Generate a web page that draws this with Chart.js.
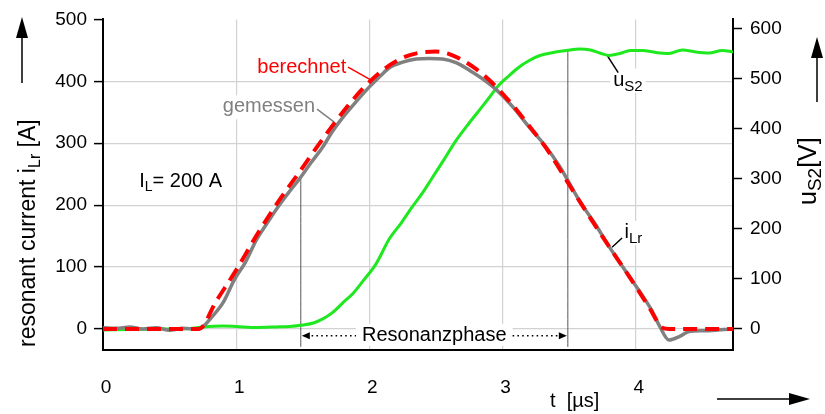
<!DOCTYPE html>
<html>

<head>
    <meta charset="utf-8">
    <title>Resonant current i_Lr and u_S2</title>
    <script src="https://cdn.jsdelivr.net/npm/chart.js"></script>
    <style>
        body { margin: 0; background: #fff; }
    </style>
</head>

<body>
    <canvas id="resonance-chart" width="825" height="414"></canvas>

    <script>
        // axis ticks
        const xTicks = [0, 1, 2, 3, 4];
        const leftTicks = [0, 100, 200, 300, 400, 500];
        const rightTicks = [0, 100, 200, 300, 400, 500, 600];

        // berechnet (calculated) i_Lr [A] over t [µs]
        const berechnetT = [0, 0.72, 0.85, 1.0, 1.15, 1.32, 1.47, 1.65, 1.8, 1.95, 2.1, 2.25, 2.4, 2.5, 2.6, 2.7, 2.8, 2.9, 3.05, 3.2, 3.35, 3.5, 3.65, 3.8, 3.95, 4.1, 4.2, 4.25, 4.73];
        const berechnetI = [0, 0, 45, 95, 150, 207, 252, 307, 350, 388, 418, 438, 447, 448, 444, 434, 420, 402, 368, 328, 285, 233, 182, 133, 85, 35, 2, 0, 0];

        // gemessen (measured) i_Lr [A]
        const gemessenT = [0, 0.1, 0.2, 0.3, 0.4, 0.5, 0.6, 0.7, 0.74, 0.82, 0.9, 0.985, 1.07, 1.15, 1.23, 1.32, 1.4, 1.47, 1.56, 1.65, 1.72, 1.78, 1.88, 2.0, 2.08, 2.15, 2.25, 2.35, 2.45, 2.55, 2.65, 2.75, 2.85, 2.96, 3.08, 3.2, 3.32, 3.43, 3.58, 3.7, 3.8, 3.9, 3.97, 4.05, 4.12, 4.18, 4.25, 4.33, 4.4, 4.5, 4.6, 4.66, 4.73];
        const gemessenI = [2, 1, 3, 0, 2, -2, 1, 0, 2, 20, 42, 79, 108, 143, 170, 199, 222, 241, 268, 294, 318, 336, 362, 391, 408, 422, 431, 436, 437, 436, 430, 418, 404, 385, 358, 326, 296, 262, 206, 168, 133, 101, 79, 54, 30, 4, -18, -12, -4, -3, -2, -1, 0];

        // u_S2 [V]
        const uS2T = [0, 0.2, 0.45, 0.65, 0.75, 0.9, 1.0, 1.15, 1.3, 1.4, 1.5, 1.58, 1.65, 1.72, 1.8, 1.88, 1.95, 2.05, 2.15, 2.24, 2.32, 2.4, 2.47, 2.56, 2.65, 2.74, 2.82, 2.9, 2.97, 3.05, 3.12, 3.2, 3.28, 3.38, 3.48, 3.58, 3.66, 3.74, 3.8, 3.88, 3.96, 4.05, 4.15, 4.25, 4.35, 4.45, 4.55, 4.65, 4.73];
        const uS2V = [-2, -1, 0, 1, 4, 6, 5, 3, 4, 5, 8, 12, 20, 32, 52, 72, 95, 130, 180, 212, 243, 272, 301, 338, 376, 408, 435, 462, 486, 506, 522, 536, 546, 552, 556, 559, 557, 550, 546, 550, 556, 556, 552, 550, 557, 553, 551, 556, 553];

        // Resonanzphase limits [µs]
        const phaseStart = 1.485;
        const phaseEnd = 3.49;

        const FONT = '"Liberation Sans", Arial, sans-serif';

        function toPoints(t, v) {
            return t.map((x, i) => ({ x: x, y: v[i] }));
        }

        // text with subscripts, parts = [text, size, baseline shift]
        function richText(ctx, x, y, parts, color) {
            ctx.fillStyle = color;
            ctx.textBaseline = 'alphabetic';
            ctx.textAlign = 'left';
            let cx = x;
            parts.forEach(p => {
                ctx.font = p[1] + 'px ' + FONT;
                ctx.fillText(p[0], cx, y + p[2]);
                cx += ctx.measureText(p[0]).width;
            });
            return cx - x;
        }

        function richWidth(ctx, parts) {
            let w = 0;
            parts.forEach(p => {
                ctx.font = p[1] + 'px ' + FONT;
                w += ctx.measureText(p[0]).width;
            });
            return w;
        }

        function arrowHead(ctx, x, y, dx, dy, len, half) {
            // tip at x,y pointing in direction dx,dy
            const px = -dy, py = dx;
            ctx.beginPath();
            ctx.moveTo(x, y);
            ctx.lineTo(x - dx * len + px * half, y - dy * len + py * half);
            ctx.lineTo(x - dx * len - px * half, y - dy * len - py * half);
            ctx.closePath();
            ctx.fill();
        }

        // labels inside the plot, positioned in data units (t, left axis)
        const labels = [
            { parts: [['berechnet', 20, 0]], t: 1.826, a: 414, align: 'right', color: '#ff0000', lead: [1.84, 423, 2.013, 402] },
            { parts: [['gemessen', 20, 0]], t: 1.592, a: 350, align: 'right', color: '#808080', lead: [1.607, 355, 1.736, 334] },
            { parts: [['I', 20, 0], ['L', 14, 4], ['= 200 A', 20, 0]], t: 0.272, a: 229, align: 'left', color: '#000' },
            { parts: [['u', 20, 0], ['S2', 15, 5]], t: 3.83, a: 393, align: 'left', color: '#000', lead: [3.785, 442, 3.868, 414] },
            { parts: [['i', 20, 0], ['Lr', 15, 5]], t: 3.915, a: 147, align: 'left', color: '#000', lead: [3.822, 132, 3.897, 147] }
        ];

        const annotations = {
            id: 'annotations',
            beforeDatasetsDraw(chart) {
                const ctx = chart.ctx;
                const xs = chart.scales.x, ys = chart.scales.y;
                ctx.save();
                labels.forEach(l => {
                    const w = richWidth(ctx, l.parts);
                    let x = xs.getPixelForValue(l.t);
                    const y = ys.getPixelForValue(l.a);
                    if (l.align === 'right') x -= w;
                    ctx.fillStyle = '#fff';
                    ctx.fillRect(x - 3, y - 17, w + 6, 24);
                    richText(ctx, x, y, l.parts, l.color);
                    if (l.lead) {
                        ctx.strokeStyle = l.color;
                        ctx.lineWidth = 1.5;
                        ctx.beginPath();
                        ctx.moveTo(xs.getPixelForValue(l.lead[0]), ys.getPixelForValue(l.lead[1]));
                        ctx.lineTo(xs.getPixelForValue(l.lead[2]), ys.getPixelForValue(l.lead[3]));
                        ctx.stroke();
                    }
                });

                // Resonanzphase marker
                const x0 = xs.getPixelForValue(phaseStart);
                const x1 = xs.getPixelForValue(phaseEnd);
                const yb = ys.getPixelForValue(-11);
                ctx.font = '20px ' + FONT;
                const txt = 'Resonanzphase';
                const tw = ctx.measureText(txt).width;
                const xm = (x0 + x1) / 2;
                ctx.fillStyle = '#fff';
                ctx.fillRect(xm - tw / 2 - 6, yb - 12, tw + 12, 22);
                ctx.fillStyle = '#000';
                ctx.textAlign = 'center';
                ctx.textBaseline = 'middle';
                ctx.fillText(txt, xm, yb);
                ctx.strokeStyle = '#000';
                ctx.lineWidth = 1.6;
                ctx.setLineDash([1.6, 3.2]);
                ctx.beginPath();
                ctx.moveTo(x0 + 6, yb);
                ctx.lineTo(xm - tw / 2 - 6, yb);
                ctx.moveTo(xm + tw / 2 + 6, yb);
                ctx.lineTo(x1 - 6, yb);
                ctx.stroke();
                ctx.setLineDash([]);
                arrowHead(ctx, x0 + 1, yb, -1, 0, 8, 3.5);
                arrowHead(ctx, x1 - 1, yb, 1, 0, 8, 3.5);
                ctx.restore();
            },
            afterDraw(chart) {
                const ctx = chart.ctx;
                ctx.save();
                ctx.fillStyle = '#000';
                ctx.strokeStyle = '#000';
                ctx.lineWidth = 1.5;

                // left axis title
                ctx.save();
                ctx.translate(35, 347);
                ctx.rotate(-Math.PI / 2);
                richText(ctx, 0, 0, [['resonant current i', 23, 0], ['Lr', 16, 5], [' [A]', 23, 0]], '#000');
                ctx.restore();

                // right axis title
                ctx.save();
                const rp = [['u', 25, 0], ['S2', 19, 5], ['[V]', 25, 0]];
                ctx.translate(816, 205);
                ctx.rotate(-Math.PI / 2);
                richText(ctx, 0, 0, rp, '#000');
                ctx.restore();

                // t [µs]
                ctx.font = '20px ' + FONT;
                ctx.textAlign = 'left';
                ctx.textBaseline = 'alphabetic';
                ctx.fillText('t  [µs]', 550, 407);

                // arrows
                ctx.beginPath();
                ctx.moveTo(22, 83); ctx.lineTo(22, 35);
                ctx.moveTo(817, 102); ctx.lineTo(817, 55);
                ctx.moveTo(717, 399); ctx.lineTo(792, 399);
                ctx.stroke();
                arrowHead(ctx, 22, 17, 0, -1, 21, 6);
                arrowHead(ctx, 817, 37, 0, -1, 21, 6);
                arrowHead(ctx, 810, 399, 1, 0, 21, 6);
                ctx.restore();
            }
        };

        const ctx = document.getElementById('resonance-chart').getContext('2d');
        new Chart(ctx, {
            type: 'line',
            data: {
                datasets: [
                    {
                        label: 'berechnet',
                        data: toPoints(berechnetT, berechnetI),
                        borderColor: '#ff0000',
                        borderWidth: 4,
                        borderDash: [14, 8],
                        yAxisID: 'y',
                        order: 1
                    },
                    {
                        label: 'gemessen',
                        data: toPoints(gemessenT, gemessenI),
                        borderColor: '#808080',
                        borderWidth: 3.5,
                        yAxisID: 'y',
                        order: 2
                    },
                    {
                        label: 'uS2',
                        data: toPoints(uS2T, uS2V),
                        borderColor: '#1ee81e',
                        borderWidth: 3,
                        yAxisID: 'y1',
                        order: 3
                    },
                    {
                        label: 'start',
                        data: [{ x: phaseStart, y: 245 }, { x: phaseStart, y: -29 }],
                        borderColor: '#555',
                        borderWidth: 1,
                        yAxisID: 'y',
                        order: 4
                    },
                    {
                        label: 'end',
                        data: [{ x: phaseEnd, y: 451 }, { x: phaseEnd, y: -29 }],
                        borderColor: '#555',
                        borderWidth: 1,
                        yAxisID: 'y',
                        order: 4
                    }
                ]
            },
            options: {
                responsive: false,
                animation: false,
                layout: { padding: { top: 19, left: 0, right: 0, bottom: 0 } },
                elements: {
                    point: { radius: 0 },
                    line: { cubicInterpolationMode: 'monotone' }
                },
                plugins: {
                    legend: { display: false },
                    tooltip: { enabled: false }
                },
                scales: {
                    x: {
                        type: 'linear',
                        min: 0,
                        max: 4.73,
                        afterBuildTicks: s => { s.ticks = xTicks.map(v => ({ value: v })); },
                        afterFit: s => { s.height = 64; },
                        grid: {
                            color: c => (c.tick && c.tick.value === 0) ? 'rgba(0,0,0,0)' : '#d2d2d2',
                            lineWidth: 1.2,
                            drawTicks: false
                        },
                        border: { color: '#000', width: 2 },
                        ticks: { color: '#000', padding: 26, labelOffset: 3, maxRotation: 0, font: { family: FONT, size: 19 } }
                    },
                    y: {
                        position: 'left',
                        min: -34,
                        max: 500,
                        afterBuildTicks: s => { s.ticks = leftTicks.map(v => ({ value: v })); },
                        afterFit: s => { s.width = 103; },
                        grid: {
                            color: c => (c.tick && c.tick.value === 500) ? 'rgba(0,0,0,0)' : '#d2d2d2',
                            lineWidth: 1.2,
                            tickColor: '#000',
                            tickWidth: 1.5,
                            tickLength: 9
                        },
                        border: { color: '#000', width: 2 },
                        ticks: { color: '#000', padding: 7, font: { family: FONT, size: 19 } }
                    },
                    y1: {
                        position: 'right',
                        min: -42,
                        max: 618,
                        afterBuildTicks: s => { s.ticks = rightTicks.map(v => ({ value: v })); },
                        afterFit: s => { s.width = 92; },
                        grid: {
                            drawOnChartArea: false,
                            tickColor: '#000',
                            tickWidth: 1.5,
                            tickLength: 9
                        },
                        border: { color: '#000', width: 2 },
                        ticks: { color: '#000', padding: 8, font: { family: FONT, size: 19 } }
                    }
                }
            },
            plugins: [annotations]
        });
    </script>
</body>

</html>
